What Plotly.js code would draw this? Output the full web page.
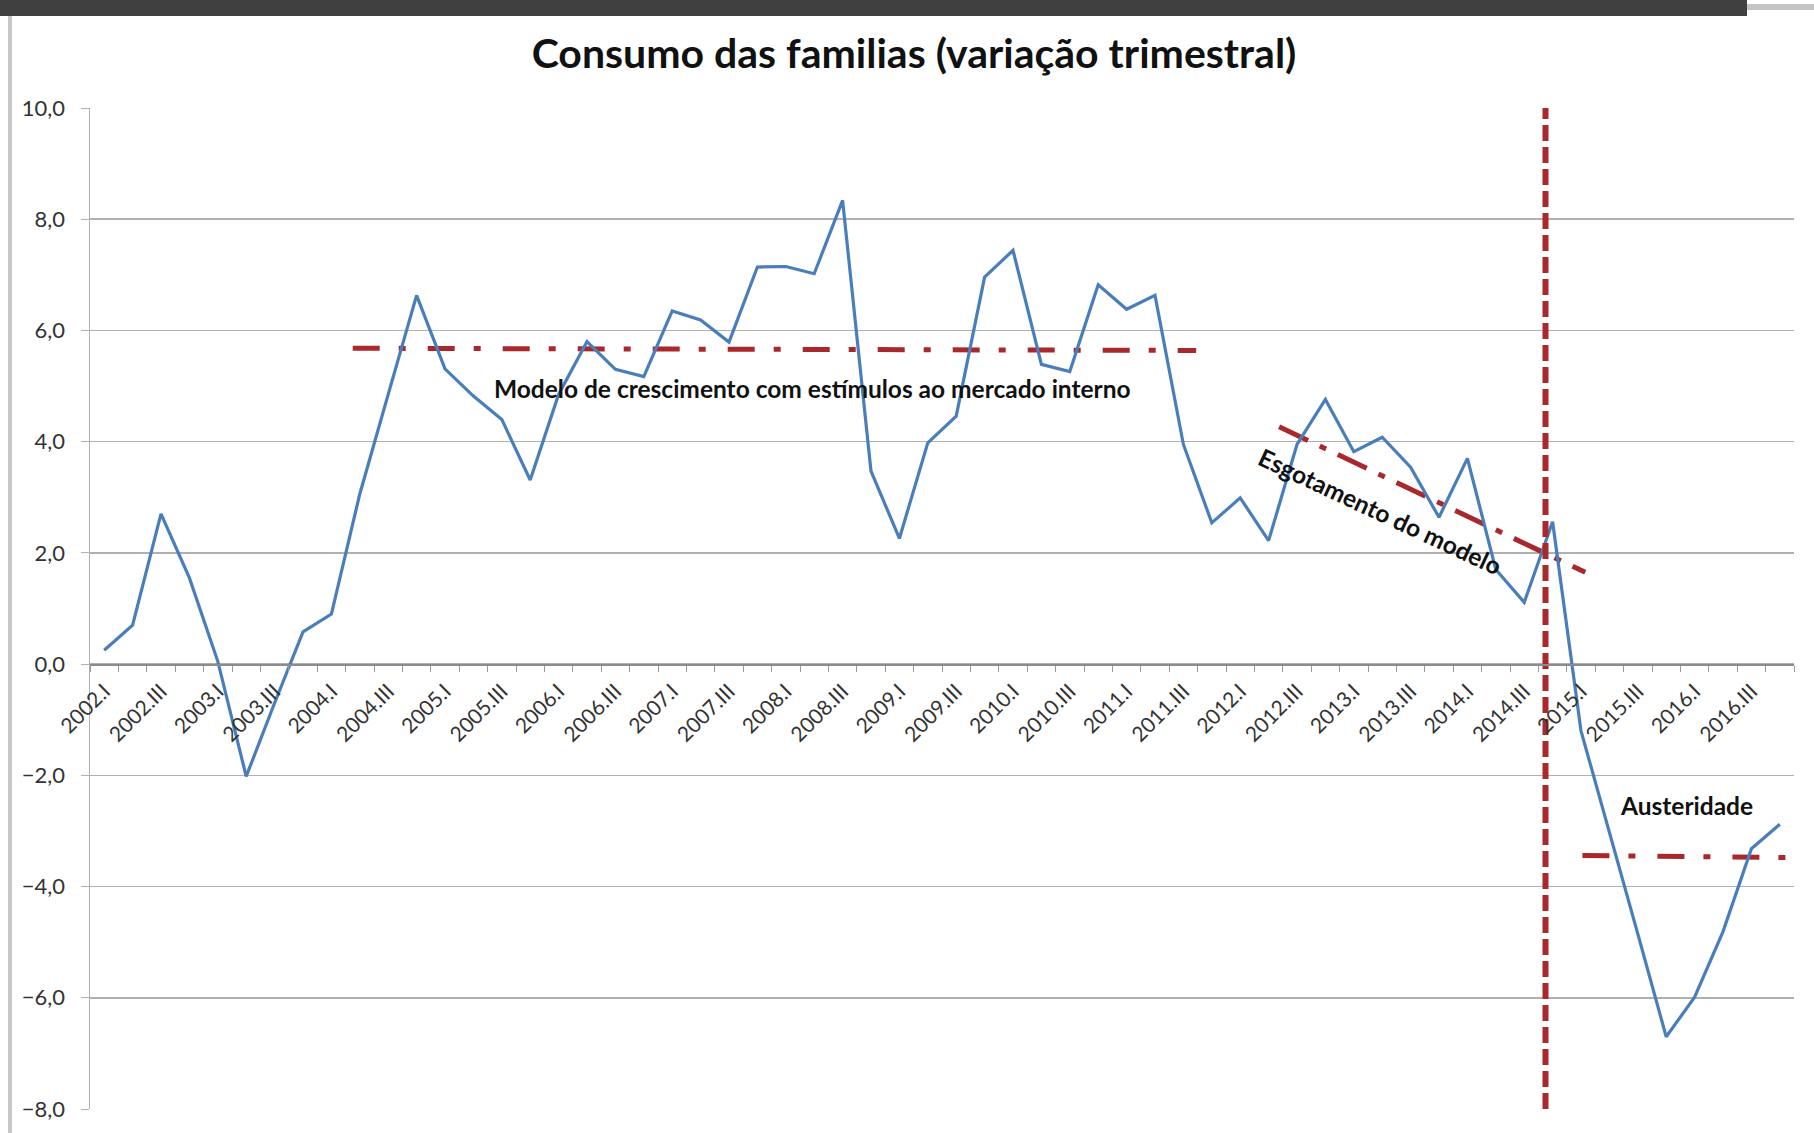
<!DOCTYPE html>
<html>
<head>
<meta charset="utf-8">
<script src="https://cdn.plot.ly/plotly-3.0.1.min.js"></script>
<style>
  html, body { margin: 0; padding: 0; background: #ffffff; }
  #wrap { position: relative; width: 1814px; height: 1133px; overflow: hidden; }
  #chart { position: absolute; left: 0; top: 0; width: 1814px; height: 1133px; }
  .topbar { position: absolute; left: 0; top: 0; width: 1747px; height: 16px; background: #404040; z-index: 5; }
  .topstrip { position: absolute; left: 1747px; top: 4px; width: 67px; height: 6px; background: #c4c4c4; z-index: 5; }
  .leftline { position: absolute; left: 8px; top: 16px; width: 4px; height: 1117px; background: #c8c8c8; z-index: 5; }
</style>
</head>
<body>
<div id="wrap">
  <div id="chart"></div>
  <div class="topbar"></div>
  <div class="topstrip"></div>
  <div class="leftline"></div>
</div>
<script>
// Quarterly categories (2002.I .. 2016.IV)
const quarters = [
  "2002.I","2002.II","2002.III","2002.IV",
  "2003.I","2003.II","2003.III","2003.IV",
  "2004.I","2004.II","2004.III","2004.IV",
  "2005.I","2005.II","2005.III","2005.IV",
  "2006.I","2006.II","2006.III","2006.IV",
  "2007.I","2007.II","2007.III","2007.IV",
  "2008.I","2008.II","2008.III","2008.IV",
  "2009.I","2009.II","2009.III","2009.IV",
  "2010.I","2010.II","2010.III","2010.IV",
  "2011.I","2011.II","2011.III","2011.IV",
  "2012.I","2012.II","2012.III","2012.IV",
  "2013.I","2013.II","2013.III","2013.IV",
  "2014.I","2014.II","2014.III","2014.IV",
  "2015.I","2015.II","2015.III","2015.IV",
  "2016.I","2016.II","2016.III","2016.IV"
];

// Consumo das famílias, variação trimestral (%)
const consumo = [
  0.25, 0.70, 2.70, 1.55,
  0.05, -2.02, -0.70, 0.58,
  0.90, 3.06, 4.85, 6.63,
  5.31, 4.82, 4.40, 3.31,
  4.85, 5.80, 5.30, 5.17,
  6.35, 6.19, 5.79, 7.14,
  7.15, 7.02, 8.34, 3.47,
  2.26, 3.98, 4.46, 6.96,
  7.44, 5.39, 5.26, 6.82,
  6.38, 6.63, 3.95, 2.54,
  2.99, 2.22, 3.95, 4.76,
  3.82, 4.08, 3.54, 2.64,
  3.70, 1.70, 1.11, 2.56,
  -1.20, -3.00, -4.85, -6.70,
  -5.99, -4.81, -3.32, -2.88
];

// Labelled ticks (every second quarter)
const tickLabels = [
  "2002.I","2002.III","2003.I","2003.III","2004.I","2004.III",
  "2005.I","2005.III","2006.I","2006.III","2007.I","2007.III",
  "2008.I","2008.III","2009.I","2009.III","2010.I","2010.III",
  "2011.I","2011.III","2012.I","2012.III","2013.I","2013.III",
  "2014.I","2014.III","2015.I","2015.III","2016.I","2016.III"
];

// Annotation guide lines (x in quarter index, y in %)
const modeloX = [8.75, 38.45];
const modeloY = [5.68, 5.64];
const esgotX  = [41.37, 52.15];
const esgotY  = [4.27, 1.65];
const austerX = [52.05, 59.5];
const austerY = [-3.44, -3.48];
const rupturaX = [50.75, 50.75];
const rupturaY = [-8, 10];

// Annotation texts and anchor points
const notes = [
  { text: "Modelo de crescimento com estímulos ao mercado interno", x: 24.95, y: 4.96, angle: 0 },
  { text: "Esgotamento do modelo", x: 44.95, y: 2.75, angle: 25 },
  { text: "Austeridade", x: 55.7, y: -2.54, angle: 0 }
];

const xIdx = quarters.map((q, i) => i);
const tickVals = tickLabels.map(t => quarters.indexOf(t));

const RED = "#A8282C";
const BLUE = "#4A7EBB";
const FONT = "Lato, 'Open Sans', 'DejaVu Sans', sans-serif";
const dashDot = "27px,19px,7px,22px";
const dashDotDiag = "32px,13px,7px,13px";

const traces = [
  { x: modeloX, y: modeloY, mode: "lines", line: { color: RED, width: 5, dash: dashDot }, hoverinfo: "skip" },
  { x: esgotX, y: esgotY, mode: "lines", line: { color: RED, width: 5, dash: dashDotDiag }, hoverinfo: "skip" },
  { x: austerX, y: austerY, mode: "lines", line: { color: RED, width: 5, dash: dashDot }, hoverinfo: "skip" },
  { x: xIdx, y: consumo, mode: "lines", line: { color: BLUE, width: 3.2 }, name: "Consumo" },
  { x: rupturaX, y: rupturaY, mode: "lines", line: { color: RED, width: 6, dash: "16px,6px" }, hoverinfo: "skip" }
];

const layout = {
  width: 1814,
  height: 1133,
  paper_bgcolor: "#ffffff",
  plot_bgcolor: "#ffffff",
  showlegend: false,
  hovermode: false,
  separators: ",.",
  font: { family: FONT, color: "#333333", size: 21 },
  margin: { l: 90, r: 20, t: 108, b: 24, pad: 0 },
  title: {
    text: "<b>Consumo das familias (variação trimestral)</b>",
    font: { family: FONT, size: 41, color: "#111111" },
    x: 914 / 1814, xref: "container", xanchor: "center",
    y: 1 - 54 / 1133, yref: "container", yanchor: "middle"
  },
  xaxis: {
    range: [-0.5, 59.5],
    anchor: "free",
    position: 8 / 18,
    showgrid: false,
    zeroline: false,
    showline: true,
    linecolor: "#8c8c8c",
    linewidth: 1.5,
    tickmode: "array",
    tickvals: tickVals,
    ticktext: tickLabels,
    tickangle: -45,
    ticks: "",
    ticklabelstandoff: 5,
    tickfont: { family: FONT, size: 21, color: "#333333" },
    minor: { tickmode: "linear", tick0: -0.5, dtick: 1, ticks: "outside", ticklen: 6, tickcolor: "#9a9a9a", tickwidth: 1, showgrid: false }
  },
  yaxis: {
    range: [-8, 10],
    dtick: 2,
    tick0: 0,
    tickformat: ".1f",
    showgrid: true,
    gridcolor: "#b0b0b0",
    gridwidth: 1.5,
    zeroline: false,
    showline: true,
    linecolor: "#b0b0b0",
    linewidth: 1.5,
    ticks: "outside",
    ticklen: 8,
    tickcolor: "#b0b0b0",
    ticklabelstandoff: 11,
    tickfont: { family: FONT, size: 22, color: "#333333" }
  },
  annotations: notes.map(n => ({
    text: "<b>" + n.text + "</b>",
    x: n.x, y: n.y, xref: "x", yref: "y",
    showarrow: false,
    textangle: n.angle,
    xanchor: "center", yanchor: "middle",
    font: { family: FONT, size: 24.5, color: "#111111" }
  }))
};

Plotly.newPlot("chart", traces, layout, { staticPlot: true, displayModeBar: false });
</script>
</body>
</html>
